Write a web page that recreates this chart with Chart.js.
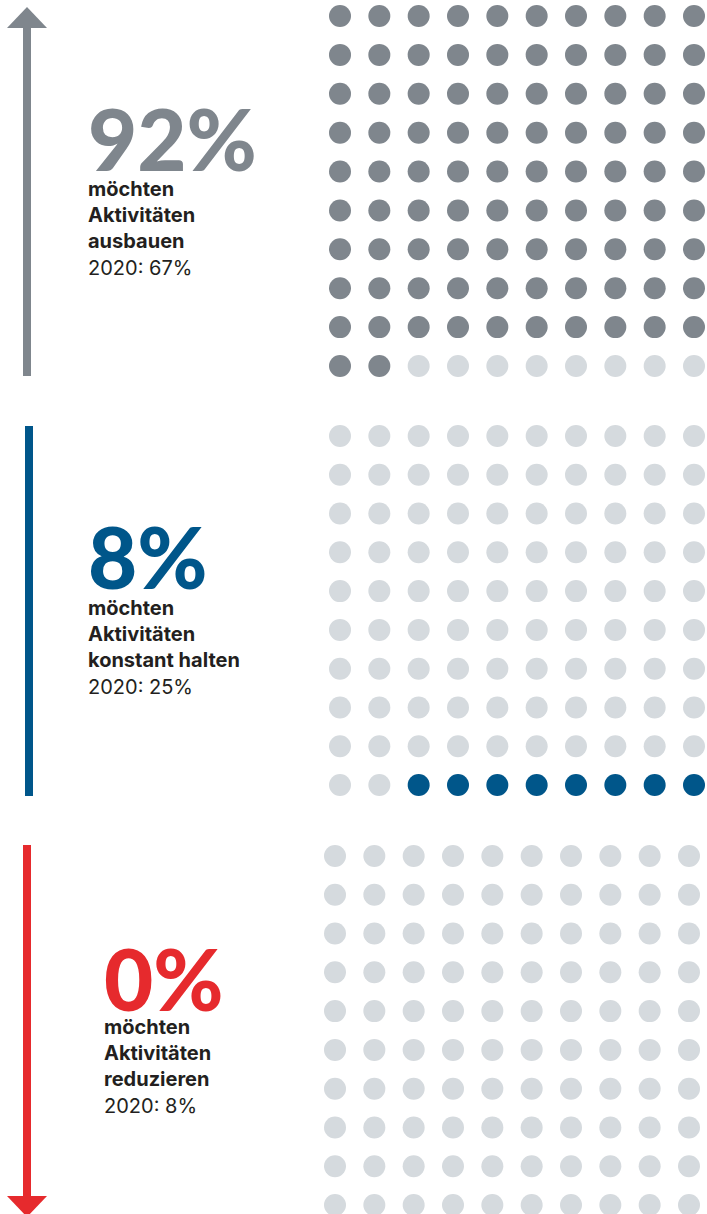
<!DOCTYPE html>
<html>
<head>
<meta charset="utf-8">
<script src="https://cdn.jsdelivr.net/npm/chart.js@4/dist/chart.umd.min.js"></script>
<style>
  html, body { margin: 0; padding: 0; background: #fff; overflow: hidden; width: 707px; height: 1214px; }
  #wrap { position: relative; width: 707px; height: 1214px; }
  canvas.dots { position: absolute; }
  .big { position: absolute; font-family: Lato, sans-serif; font-weight: 900; font-size: 85px; line-height: 84px; white-space: nowrap; letter-spacing: 0px; }
  .lbl { position: absolute; font-family: Inter, sans-serif; font-size: 20px; line-height: 26.2px; color: #231f20; white-space: nowrap; }
  .lbl b { font-weight: 700; }
  .lbl span { font-weight: 400; }
  svg { position: absolute; left: 0; top: 0; }
</style>
</head>
<body>
<div id="wrap">
  <svg width="707" height="1214">
    <rect x="23" y="26" width="8" height="350" fill="#7f868d"/>
    <polygon points="27,7 7,28 47,28" fill="#7f868d"/>
    <rect x="25" y="426" width="8" height="370" fill="#00568a"/>
    <rect x="23" y="845" width="8" height="353" fill="#e62a2d"/>
    <polygon points="7,1196 47,1196 27,1217" fill="#e62a2d"/>
  </svg>
</div>
<script>
// ---- data ----
const categories = ['ausbauen', 'konstant halten', 'reduzieren'];
const share2023 = [92, 8, 0];
const share2020 = [67, 25, 8];
const fillFrom = ['start', 'end', 'start'];
const gridCols = [1, 2, 3, 4, 5, 6, 7, 8, 9, 10];
const gridRows = [1, 2, 3, 4, 5, 6, 7, 8, 9, 10];

// ---- styles ----
const accent = ['#7f868d', '#00568a', '#e62a2d'];
const emptyColor = '#d5dade';
const panels = [
  { left: 328, top: 4, w: 378, h: 374, bigLeft: 88, bigTop: 96, lblLeft: 88, lblTop: 176 },
  { left: 328, top: 424, w: 378, h: 373, bigLeft: 88, bigTop: 514, lblLeft: 88, lblTop: 595 },
  { left: 323, top: 844, w: 378, h: 373, bigLeft: 104, bigTop: 936, lblLeft: 104, lblTop: 1014 }
];

const wrap = document.getElementById('wrap');

categories.forEach((cat, k) => {
  const p = panels[k];
  const cv = document.createElement('canvas');
  cv.className = 'dots';
  cv.width = p.w; cv.height = p.h;
  cv.style.left = p.left + 'px'; cv.style.top = p.top + 'px';
  cv.style.width = p.w + 'px'; cv.style.height = p.h + 'px';
  wrap.appendChild(cv);

  const pts = [], colors = [];
  const total = gridCols.length * gridRows.length;
  gridRows.forEach((r, ri) => {
    gridCols.forEach((c, ci) => {
      const idx = ri * gridCols.length + ci;
      pts.push({ x: c, y: r });
      const filled = fillFrom[k] === 'start' ? idx < share2023[k] : idx >= total - share2023[k];
      colors.push(filled ? accent[k] : emptyColor);
    });
  });

  new Chart(cv, {
    type: 'scatter',
    data: { datasets: [{ data: pts, pointRadius: 11, pointHoverRadius: 11, pointBorderWidth: 0,
      pointBackgroundColor: colors, pointBorderColor: colors, clip: false }] },
    options: {
      responsive: false, animation: false, devicePixelRatio: 1,
      layout: { padding: 12 },
      plugins: { legend: { display: false }, tooltip: { enabled: false } },
      events: [],
      scales: {
        x: { type: 'linear', min: 1, max: 10, display: false },
        y: { type: 'linear', min: 1, max: 10, reverse: true, display: false }
      }
    }
  });

  const big = document.createElement('div');
  big.className = 'big';
  big.style.left = p.bigLeft + 'px'; big.style.top = p.bigTop + 'px';
  big.style.color = accent[k];
  big.textContent = share2023[k] + '%';
  wrap.appendChild(big);

  const lbl = document.createElement('div');
  lbl.className = 'lbl';
  lbl.style.left = p.lblLeft + 'px'; lbl.style.top = p.lblTop + 'px';
  lbl.innerHTML = '<b>möchten</b><br><b>Aktivitäten</b><br><b>' + cat + '</b><br><span>2020: ' + share2020[k] + '%</span>';
  wrap.appendChild(lbl);
});
</script>
</body>
</html>
